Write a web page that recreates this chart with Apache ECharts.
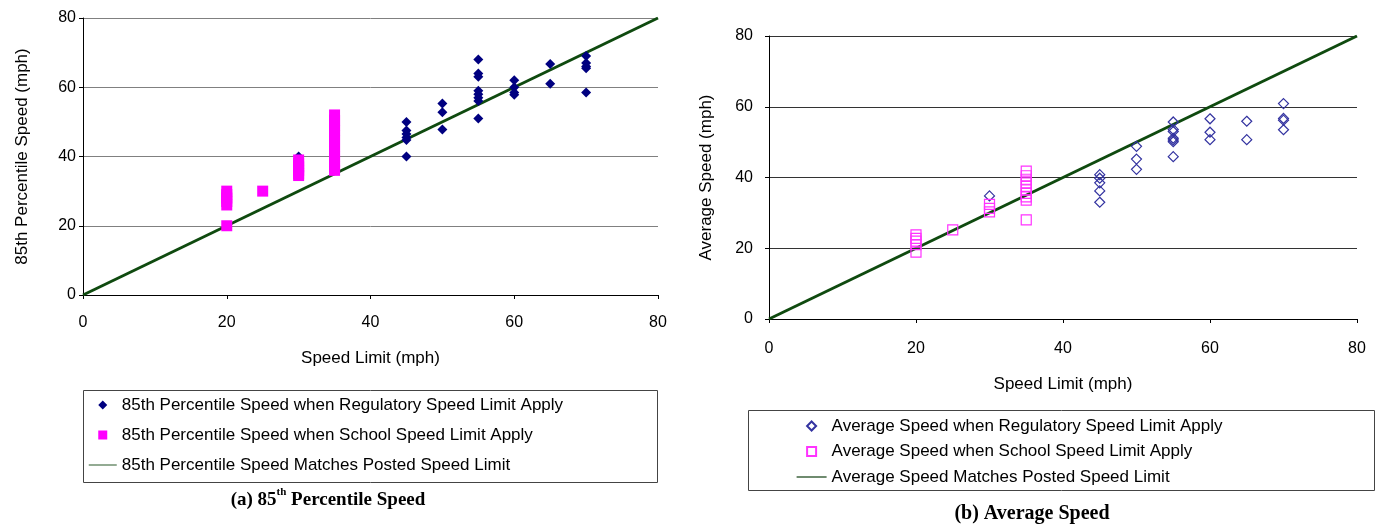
<!DOCTYPE html>
<html>
<head>
<meta charset="utf-8">
<script src="https://cdn.jsdelivr.net/npm/echarts@6/dist/echarts.min.js"></script>
<style>
html,body{margin:0;padding:0;background:#fff;}
#chart{width:1385px;height:527px;}
</style>
</head>
<body>
<div id="chart"></div>
<script>
// ---- Data (speed limit, speed) ----
const axisTicks = [0, 20, 40, 60, 80];

const p85Regulatory = [
  [30, 40],
  [45, 50], [45, 47.5], [45, 46.5], [45, 45.5], [45, 44.8], [45, 40],
  [50, 55.3], [50, 52.8], [50, 47.8],
  [55, 68], [55, 64], [55, 63], [55, 59], [55, 58], [55, 57], [55, 56], [55, 51],
  [60, 62], [60, 60], [60, 58.5], [60, 57.8],
  [65, 66.7], [65, 61],
  [70, 69], [70, 67], [70, 66], [70, 65.5], [70, 58.5]
];
const p85School = [
  [20, 30], [20, 29], [20, 28], [20, 27], [20, 26], [20, 20],
  [25, 30],
  [30, 39], [30, 38], [30, 37], [30, 36], [30, 35], [30, 34.5],
  [35, 52], [35, 50.5], [35, 49], [35, 47.5], [35, 46], [35, 44.5], [35, 43],
  [35, 41.5], [35, 40], [35, 38.5], [35, 37], [35, 36]
];
const avgRegulatory = [
  [30, 34.8],
  [45, 40.8], [45, 39.8], [45, 38.5], [45, 36.2], [45, 33],
  [50, 48.8], [50, 45.2], [50, 42.3],
  [55, 55.7], [55, 53.6], [55, 53], [55, 51.1], [55, 50.6], [55, 50.1], [55, 45.9],
  [60, 56.6], [60, 52.8], [60, 50.7],
  [65, 55.9], [65, 50.7],
  [70, 60.9], [70, 56.7], [70, 56.2], [70, 53.5]
];
const avgSchool = [
  [20, 23.8], [20, 22.8], [20, 22], [20, 21], [20, 18.9],
  [25, 25.2],
  [30, 32.4], [30, 31.3], [30, 30.3],
  [35, 41.8], [35, 40.5], [35, 39.5], [35, 38.5], [35, 37.5], [35, 36.5],
  [35, 35.5], [35, 34.5], [35, 33.6], [35, 28]
];
const matchLine = [[0, 0], [80, 80]];

const names = {
  p85Reg: '85th Percentile Speed when Regulatory Speed Limit Apply',
  p85Sch: '85th Percentile Speed when School Speed Limit Apply',
  p85Line: '85th Percentile Speed Matches Posted Speed Limit',
  avgReg: 'Average Speed when Regulatory Speed Limit Apply',
  avgSch: 'Average Speed when School Speed Limit Apply',
  avgLine: 'Average Speed Matches Posted Speed Limit'
};

const FONT = '"Liberation Sans", Arial, sans-serif';
const SERIF = '"Liberation Serif", "Times New Roman", serif';
const ICON_DIAMOND = 'path://M5,0 L10,5 L5,10 L0,5 Z';
const ICON_SQUARE = 'path://M0,0 L10,0 L10,10 L0,10 Z';
const HIDDEN_SYMBOL = {color: 'rgba(0,0,0,0)', borderColor: 'rgba(0,0,0,0)', borderWidth: 0};

function xAxisDef(gridIndex, margin, nameGap) {
  return {
    gridIndex, type: 'value', min: 0, max: 80, interval: 20,
    name: 'Speed Limit (mph)', nameLocation: 'middle', nameGap,
    nameTextStyle: {fontFamily: FONT, fontSize: 17, color: '#000'},
    axisLine: {show: true, lineStyle: {color: '#000', width: 1}},
    axisTick: {show: true, length: 4, lineStyle: {color: '#000'}},
    axisLabel: {fontFamily: FONT, fontSize: 16, color: '#000', margin},
    splitLine: {show: false}
  };
}
function yAxisDef(gridIndex, title, margin, nameGap, gridColor) {
  return {
    gridIndex, type: 'value', min: 0, max: 80, interval: 20,
    name: title, nameLocation: 'middle', nameGap, nameRotate: 90,
    nameTextStyle: {fontFamily: FONT, fontSize: 17, color: '#000'},
    axisLine: {show: true, lineStyle: {color: '#000', width: 1}},
    axisTick: {show: true, length: 4, lineStyle: {color: '#000'}},
    axisLabel: {fontFamily: FONT, fontSize: 16, color: '#000', margin},
    splitLine: {show: true, lineStyle: {color: gridColor, width: 1}}
  };
}

const chart = echarts.init(document.getElementById('chart'), null, {renderer: 'canvas'});
chart.setOption({
  backgroundColor: '#fff',
  animation: false,
  grid: [
    {left: 83, top: 18, width: 575, height: 277},
    {left: 769, top: 36, width: 588, height: 283}
  ],
  xAxis: [xAxisDef(0, 20, 55), xAxisDef(1, 22, 57)],
  yAxis: [
    yAxisDef(0, '85th Percentile Speed (mph)', 7, 52, '#808080'),
    yAxisDef(1, 'Average Speed (mph)', 16, 54, '#333333')
  ],
  legend: [
    {
      orient: 'vertical', left: 88, top: 395, padding: 0,
      itemWidth: 28, itemHeight: 9, itemGap: 10, symbolKeepAspect: true,
      textStyle: {fontFamily: FONT, fontSize: 17, color: '#000', lineHeight: 20},
      data: [
        {name: names.p85Reg, icon: ICON_DIAMOND, itemStyle: {color: '#000080'}},
        {name: names.p85Sch, icon: ICON_SQUARE, itemStyle: {color: '#ff00ff'}},
        {name: names.p85Line, itemStyle: HIDDEN_SYMBOL, lineStyle: {color: '#6f8f6f', width: 1.5}}
      ]
    },
    {
      orient: 'vertical', left: 796, top: 416, padding: 0,
      itemWidth: 30, itemHeight: 9, itemGap: 5.5, symbolKeepAspect: true,
      textStyle: {fontFamily: FONT, fontSize: 17, color: '#000', lineHeight: 20},
      data: [
        {name: names.avgReg, icon: ICON_DIAMOND},
        {name: names.avgSch, icon: ICON_SQUARE},
        {name: names.avgLine, itemStyle: HIDDEN_SYMBOL, lineStyle: {color: '#0f3f0f', width: 1.2}}
      ]
    }
  ],
  graphic: [
    {type: 'rect', shape: {x: 83.5, y: 390.5, width: 574, height: 92},
     style: {fill: 'none', stroke: '#444', lineWidth: 1}, z: 0},
    {type: 'rect', shape: {x: 748.5, y: 410.5, width: 626, height: 80},
     style: {fill: 'none', stroke: '#444', lineWidth: 1}, z: 0},
    {type: 'text', x: 328, y: 500,
     style: {text: '(a) 85{sup|th} Percentile Speed', align: 'center', verticalAlign: 'middle',
       font: 'bold 19px ' + SERIF, fill: '#000',
       rich: {sup: {fontSize: 11, fontWeight: 'bold', fontFamily: SERIF, verticalAlign: 'top', lineHeight: 26}}}},
    {type: 'text', x: 1032, y: 514,
     style: {text: '(b) Average Speed', align: 'center', verticalAlign: 'middle',
       font: 'bold 20px ' + SERIF, fill: '#000'}}
  ],
  series: [
    {
      name: names.p85Line, type: 'line', xAxisIndex: 0, yAxisIndex: 0,
      data: matchLine, symbol: 'none', itemStyle: {color: '#0f4a0f'},
      lineStyle: {color: '#0f4a0f', width: 3}, z: 3
    },
    {
      name: names.p85Reg, type: 'scatter', xAxisIndex: 0, yAxisIndex: 0,
      data: p85Regulatory, symbol: 'diamond', symbolSize: 10,
      itemStyle: {color: '#000080', opacity: 1}, z: 4
    },
    {
      name: names.p85Sch, type: 'scatter', xAxisIndex: 0, yAxisIndex: 0,
      data: p85School, symbol: 'rect', symbolSize: 11,
      itemStyle: {color: '#ff00ff', opacity: 1}, z: 5
    },
    {
      name: names.avgLine, type: 'line', xAxisIndex: 1, yAxisIndex: 1,
      data: matchLine, symbol: 'none', itemStyle: {color: '#0f4a0f'},
      lineStyle: {color: '#0f4a0f', width: 3}, z: 3
    },
    {
      name: names.avgReg, type: 'scatter', xAxisIndex: 1, yAxisIndex: 1,
      data: avgRegulatory, symbol: 'diamond', symbolSize: 10,
      itemStyle: {color: 'rgba(0,0,0,0)', borderColor: '#3333a0', borderWidth: 1.2, opacity: 1}, z: 4
    },
    {
      name: names.avgSch, type: 'scatter', xAxisIndex: 1, yAxisIndex: 1,
      data: avgSchool, symbol: 'rect', symbolSize: 10,
      itemStyle: {color: 'rgba(0,0,0,0)', borderColor: '#ff33ff', borderWidth: 1.2, opacity: 1}, z: 5
    }
  ]
});
</script>
</body>
</html>
